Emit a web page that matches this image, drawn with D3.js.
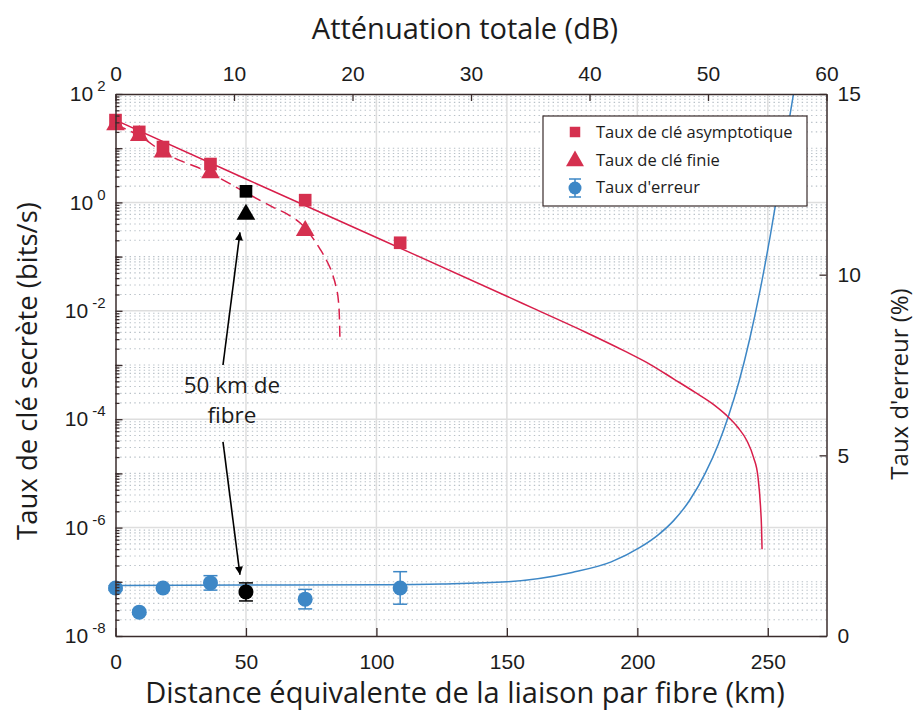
<!DOCTYPE html>
<html lang="fr">
<head>
<meta charset="UTF-8">
<title>taux-de-cle</title>
<script src="https://cdn.jsdelivr.net/npm/d3@7"></script>
<style>
    body { margin: 0; background: #fff; }
    svg text { fill: #1c1c1c; }
    .tick text { font-family: "Liberation Sans", Arial, sans-serif; font-size: 21px; fill: #1c1c1c; }
    .title { font-family: "Open Sans", sans-serif; font-size: 29px; }
    .legend text { font-family: "Open Sans", sans-serif; font-size: 16.5px; }
    .note { font-family: "Open Sans", sans-serif; font-size: 22.5px; }
</style>
</head>
<body>
<script>

// measured link distances (km) -> 0, 2, 4, 8, 16, 24 dB
const linkKm = [0, 9.1, 18.2, 36.4, 72.7, 109.1];
const asymPts = [33, 20, 10.5, 5.1, 1.1, 0.18];
const finitePts = [27, 17, 8.5, 3.5, 0.30];
const qberPts = [1.33, 0.66, 1.33, 1.47, 1.02, 1.33];
const qberErr = [0.06, 0.06, 0.06, 0.2, 0.27, 0.45];

// the 50 km fibre measurement (black)
const fibreKm = 50;
const fibreAsym = 1.6;
const fibreFinite = 0.6;
const fibreQber = 1.22;
const fibreQberErr = 0.25;

// simulated curves
const asymCurveKm = [0, 50, 100, 150, 160, 180, 195, 205, 214, 222, 229, 234, 238.5, 242, 244.5, 246.2, 247.2, 247.6, 247.8];
const asymCurve = [33, 2.7, 0.225, 0.0186, 0.0112, 0.00407, 0.00182, 0.00102, 5.5e-4, 3.16e-4, 1.9e-4, 1.2e-4, 7.1e-5, 4e-5, 2e-5, 8.9e-6, 2.5e-6, 1e-6, 4e-7];
const finCurveKm = [0, 9.1, 18.2, 36.2, 50.3, 60.3, 66, 70.7, 74.5, 78.4, 81, 83, 84.5, 85.4, 85.8, 86];
const finCurve = [27, 17, 8.5, 3.5, 1.48, 0.82, 0.60, 0.42, 0.26, 0.138, 0.083, 0.05, 0.028, 0.0158, 0.0079, 0.0033];
const qberCurveKm = [0, 50, 100, 125, 150, 175, 190, 201, 208, 214, 220, 226, 231, 235, 239, 243, 247, 251, 255, 258, 260.3];
const qberCurve = [1.40, 1.41, 1.42, 1.44, 1.50, 1.76, 2.05, 2.45, 2.8, 3.2, 3.75, 4.5, 5.3, 6.1, 7.05, 8.2, 9.55, 11.1, 12.8, 14.2, 15.2];

// axes
const kmTicks = [0, 50, 100, 150, 200, 250];
const dbTicks = [0, 10, 20, 30, 40, 50, 60];
const rateExp = [-8, -7, -6, -5, -4, -3, -2, -1, 0, 1, 2];
const qberTicks = [0, 5, 10, 15];

const legendLabels = ["Taux de clé asymptotique", "Taux de clé finie", "Taux d'erreur"];
const noteLines = ["50 km de", "fibre"];

let red = "#d5304f";
let blue = "#3d87c6";
let axisColor = "#3a2c2c";

let width = 918, height = 713;
let pLeft = 115.5, pRight = 826.5, pTop = 94, pBottom = 636;

let svg = d3.select("body").append("svg").attr("width", width).attr("height", height);

let x = d3.scaleLinear().domain([0, 272.5]).range([pLeft, pRight]);
let xTop = d3.scaleLinear().domain([0, 60]).range([pLeft, pRight]);
let y = d3.scaleLog().domain([1e-8, 1e2]).range([pBottom, pTop]);
let yR = d3.scaleLinear().domain([0, 15]).range([pBottom, pTop]);

let defs = svg.append("defs");
defs.append("clipPath").attr("id", "plot")
    .append("rect").attr("x", pLeft).attr("y", pTop).attr("width", pRight - pLeft).attr("height", pBottom - pTop);

// minor grid (dotted)
let minor = [];
rateExp.slice(0, -1).forEach(function (e) {
    for (let m = 2; m <= 9; m++) minor.push(m * Math.pow(10, e));
    if (e % 2 !== 0) minor.push(Math.pow(10, e));
});
svg.append("g").selectAll("line").data(minor).enter().append("line")
    .attr("x1", pLeft).attr("x2", pRight)
    .attr("y1", d => y(d)).attr("y2", d => y(d))
    .attr("stroke", "#b9c1c8").attr("stroke-width", 1.1)
    .attr("stroke-dasharray", "1.4,3.3");

// major grid
svg.append("g").selectAll("line").data(kmTicks.slice(1)).enter().append("line")
    .attr("x1", d => x(d)).attr("x2", d => x(d)).attr("y1", pTop).attr("y2", pBottom)
    .attr("stroke", "#dedede").attr("stroke-width", 1.5);
svg.append("g").selectAll("line").data(rateExp.filter(e => e % 2 === 0 && e > -8 && e < 2)).enter().append("line")
    .attr("x1", pLeft).attr("x2", pRight)
    .attr("y1", d => y(Math.pow(10, d))).attr("y2", d => y(Math.pow(10, d)))
    .attr("stroke", "#dedede").attr("stroke-width", 1.5);

// curves
let plot = svg.append("g").attr("clip-path", "url(#plot)");

let rateLine = d3.line().x(d => x(d[0])).y(d => y(d[1])).curve(d3.curveMonotoneX);
let qberLine = d3.line().x(d => x(d[0])).y(d => yR(d[1])).curve(d3.curveMonotoneX);

plot.append("path")
    .attr("d", qberLine(d3.zip(qberCurveKm, qberCurve)))
    .attr("fill", "none").attr("stroke", blue).attr("stroke-width", 1.5);
plot.append("path")
    .attr("d", rateLine(d3.zip(asymCurveKm, asymCurve)))
    .attr("fill", "none").attr("stroke", "#d81e4a").attr("stroke-width", 1.5);
plot.append("path")
    .attr("d", rateLine(d3.zip(finCurveKm, finCurve)))
    .attr("fill", "none").attr("stroke", "#d81e4a").attr("stroke-width", 1.5)
    .attr("stroke-dasharray", "11,6");

// error bars
let errData = d3.zip(linkKm, qberPts, qberErr).map(d => ({km: d[0], v: d[1], e: d[2], c: blue}));
errData.push({km: fibreKm, v: fibreQber, e: fibreQberErr, c: "#000"});

let eb = svg.append("g").selectAll("g").data(errData).enter().append("g")
    .attr("stroke", d => d.c).attr("stroke-width", 1.5);
eb.append("line").attr("x1", d => x(d.km)).attr("x2", d => x(d.km))
    .attr("y1", d => yR(d.v - d.e)).attr("y2", d => yR(d.v + d.e));
eb.append("line").attr("x1", d => x(d.km) - 7).attr("x2", d => x(d.km) + 7)
    .attr("y1", d => yR(d.v - d.e)).attr("y2", d => yR(d.v - d.e));
eb.append("line").attr("x1", d => x(d.km) - 7).attr("x2", d => x(d.km) + 7)
    .attr("y1", d => yR(d.v + d.e)).attr("y2", d => yR(d.v + d.e));

svg.append("g").selectAll("circle").data(errData).enter().append("circle")
    .attr("cx", d => x(d.km)).attr("cy", d => yR(d.v)).attr("r", 7.5)
    .attr("fill", d => d.c);

// key rate markers
let square = d3.symbol().type(d3.symbolSquare).size(160);
let triangle = d3.symbol().type(d3.symbolTriangle).size(150);

svg.append("g").selectAll("path").data(d3.zip(linkKm, finitePts)).enter().append("path")
    .attr("d", triangle)
    .attr("transform", d => `translate(${x(d[0])},${y(d[1])})`)
    .attr("fill", red);
svg.append("g").selectAll("path").data(d3.zip(linkKm, asymPts)).enter().append("path")
    .attr("d", square)
    .attr("transform", d => `translate(${x(d[0])},${y(d[1])})`)
    .attr("fill", red);

svg.append("path").attr("d", square)
    .attr("transform", `translate(${x(fibreKm)},${y(fibreAsym)})`).attr("fill", "#000");
svg.append("path").attr("d", triangle)
    .attr("transform", `translate(${x(fibreKm)},${y(fibreFinite)})`).attr("fill", "#000");

// annotation
defs.append("marker").attr("id", "arrow")
    .attr("viewBox", "0 0 10 10").attr("refX", 10).attr("refY", 5)
    .attr("markerWidth", 12).attr("markerHeight", 8).attr("markerUnits", "userSpaceOnUse")
    .attr("orient", "auto")
    .append("path").attr("d", "M0,0 L10,5 L0,10 Z").attr("fill", "#000");

let arrows = [
    [[41.2, 1.0e-3], [47.7, 0.28]],
    [[41.2, 3.8e-5], [47.7, 1.35e-7]]
];
svg.append("g").selectAll("line").data(arrows).enter().append("line")
    .attr("x1", d => x(d[0][0])).attr("y1", d => y(d[0][1]))
    .attr("x2", d => x(d[1][0])).attr("y2", d => y(d[1][1]))
    .attr("stroke", "#000").attr("stroke-width", 1.6)
    .attr("marker-end", "url(#arrow)");

svg.append("text").attr("class", "note")
    .attr("x", x(44.6)).attr("y", y(3.0e-4))
    .attr("text-anchor", "middle")
    .selectAll("tspan").data(noteLines).enter().append("tspan")
    .attr("x", x(44.6)).attr("dy", (d, i) => i === 0 ? 0 : 30)
    .text(d => d);

// axes
let gB = svg.append("g").attr("transform", `translate(0,${pBottom})`)
    .call(d3.axisBottom(x).tickValues(kmTicks).tickSize(-8).tickSizeOuter(0).tickPadding(18));
let gT = svg.append("g").attr("transform", `translate(0,${pTop})`)
    .call(d3.axisTop(xTop).tickValues(dbTicks).tickSize(-7).tickSizeOuter(0).tickPadding(13));
let gR = svg.append("g").attr("transform", `translate(${pRight},0)`)
    .call(d3.axisRight(yR).tickValues(qberTicks).tickSize(-7).tickSizeOuter(0).tickPadding(11));
let gL = svg.append("g").attr("transform", `translate(${pLeft},0)`)
    .call(d3.axisLeft(y).tickValues(rateExp.map(e => Math.pow(10, e))).tickSize(-7).tickSizeOuter(0).tickPadding(10)
        .tickFormat(d => ""));
let gLm = svg.append("g").attr("transform", `translate(${pLeft},0)`)
    .call(d3.axisLeft(y).tickValues(minor).tickSize(-4).tickSizeOuter(0).tickFormat(d => ""));
gLm.select(".domain").remove();

gL.selectAll(".tick text").each(function (d) {
    let e = Math.round(Math.log10(d));
    if (e % 2 !== 0) return;
    let t = d3.select(this);
    t.text("10");
    t.append("tspan").attr("font-size", 15).attr("dx", 4).attr("dy", -10).text(e);
});

[gB, gT, gR, gL, gLm].forEach(function (g) {
    g.selectAll(".domain").attr("stroke", axisColor).attr("stroke-width", 1.5);
    g.selectAll(".tick line").attr("stroke", axisColor).attr("stroke-width", 1.3);
});

// titles
svg.append("text").attr("class", "title")
    .attr("x", 465).attr("y", 703).attr("text-anchor", "middle")
    .text("Distance équivalente de la liaison par fibre (km)");
svg.append("text").attr("class", "title")
    .attr("x", 465).attr("y", 39).attr("text-anchor", "middle")
    .text("Atténuation totale (dB)");
svg.append("text").attr("class", "title")
    .attr("transform", "translate(37,371) rotate(-90)").attr("text-anchor", "middle")
    .style("font-size", "27.5px")
    .text("Taux de clé secrète (bits/s)");
svg.append("text").attr("class", "title")
    .attr("transform", "translate(908,384) rotate(-90)").attr("text-anchor", "middle")
    .style("font-size", "24px")
    .text("Taux d'erreur (%)");

// legend
let lg = svg.append("g").attr("class", "legend").attr("transform", "translate(543,116)");
lg.append("rect").attr("width", 264).attr("height", 90)
    .attr("fill", "#fff").attr("stroke", axisColor).attr("stroke-width", 1.2);
lg.selectAll("text").data(legendLabels).enter().append("text")
    .attr("x", 53).attr("y", (d, i) => 22 + i * 27.5).text(d => d);
lg.append("path").attr("d", d3.symbol().type(d3.symbolSquare).size(110))
    .attr("transform", "translate(32,16)").attr("fill", red);
lg.append("path").attr("d", d3.symbol().type(d3.symbolTriangle).size(140))
    .attr("transform", "translate(32,45)").attr("fill", red);
let le = lg.append("g").attr("transform", "translate(32,72)").attr("stroke", blue).attr("stroke-width", 1.5);
le.append("line").attr("x1", 0).attr("x2", 0).attr("y1", -9).attr("y2", 9);
le.append("line").attr("x1", -6).attr("x2", 6).attr("y1", -9).attr("y2", -9);
le.append("line").attr("x1", -6).attr("x2", 6).attr("y1", 9).attr("y2", 9);
le.append("circle").attr("r", 6.5).attr("fill", blue).attr("stroke", "none");

</script>
</body>
</html>
